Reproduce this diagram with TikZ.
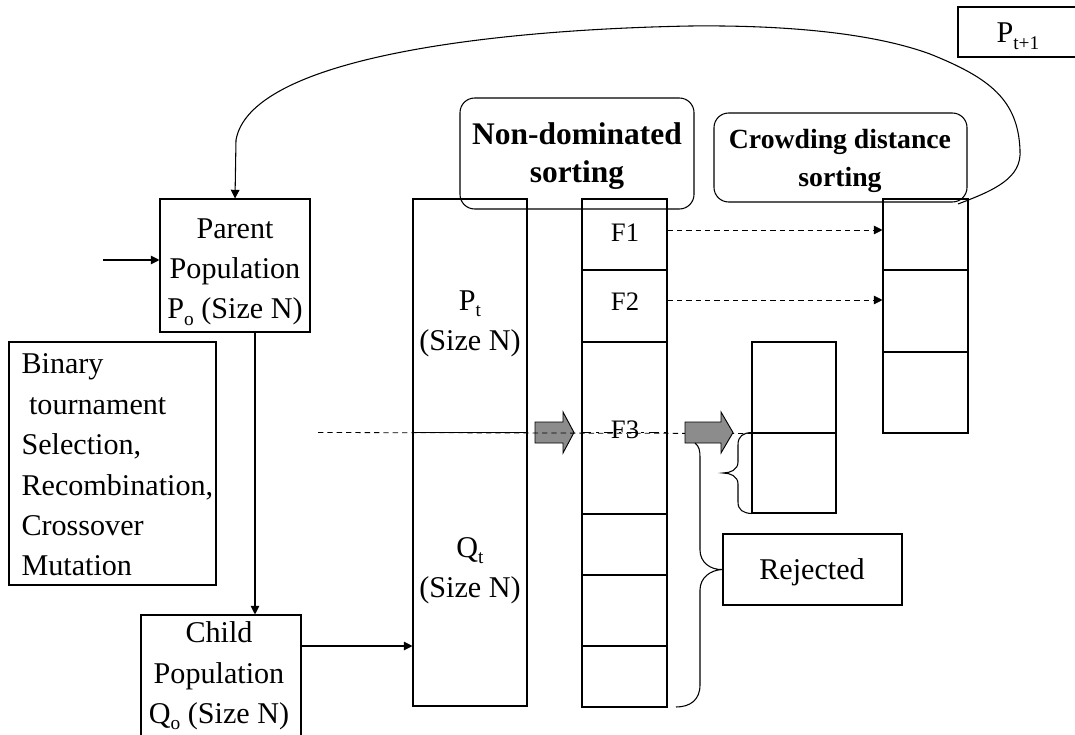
\documentclass[tikz,border=0pt]{standalone}
\usepackage{fontspec}
\setmainfont{Liberation Serif}
\usetikzlibrary{arrows.meta,fit}
\newcommand\lowsub[1]{\raisebox{-4.8pt}{\fontsize{14.5}{14.5}\selectfont #1}}
\begin{document}
\begin{tikzpicture}[x=0.75pt,y=-0.75pt,
  line width=0.8pt,
  box/.style={draw, inner sep=0pt},
  rbox/.style={draw, rounded corners=11pt, inner sep=0pt},
  txt/.style={font=\fontsize{22.6}{30.3}\selectfont, align=center, inner sep=0pt},
  ftxt/.style={font=\fontsize{20}{24}\selectfont, inner sep=0pt},
  hdr/.style={font=\bfseries\fontsize{#1}{28}\selectfont, align=center, inner sep=0pt},
  arr/.style={-{Triangle[length=6.5pt,width=6.5pt]}},
  thindash/.style={line width=0.6pt, dash pattern=on 4pt off 3pt},
  blockarrow/.style={draw, line width=0.7pt, fill=black!45},
]
\useasboundingbox (0,0) rectangle (1075,735);
\clip (0,0) rectangle (1075,735);

% next generation label
\node[box, fit={(958,7) (1085,57)}] (pnext) {};
\node[txt, anchor=base west] (pnextlabel) at (996,43) {P\lowsub{t+1}};

% parent population and genetic operators
\node[box, fit={(160,199) (310,332)}] (parent) {};
\node[txt] (parentlabel) at (235,272) {Parent\\Population\\P\lowsub{o} (Size N)};
\node[box, fit={(9,342) (216,585)}] (ops) {};
\node[txt, align=left, anchor=west] (opslabel) at (21,465)
  {Binary\\\hspace{0.25em}tournament\\Selection,\\Recombination,\\Crossover\\Mutation};
\node[box, fit={(141,615) (301,745)}] (child) {};
\node[txt] (childlabel) at (219,676) {Child\\Population\\Q\lowsub{o} (Size N)};

% combined population R_t = P_t + Q_t
\node[box, fit={(413,199) (527,706)}] (pq) {};
\node[txt] (pt) at (470,324) {P\lowsub{t}\\(Size N)};
\node[txt] (qt) at (470,571) {Q\lowsub{t}\\(Size N)};

% sorting headers
\node[rbox, fit={(460,98) (694,209)}] (nds) {};
\node[hdr=23.6] (ndslabel) at (577,156) {Non-dominated\\sorting};
\node[rbox, fit={(714,113) (967,202)}] (crowd) {};
\node[hdr=20.8] (crowdlabel) at (840,161) {Crowding distance\\sorting};

% fronts
\node[box, fit={(582,199) (667,270)}] (f1) {};
\node[box, fit={(582,270) (667,342)}] (f2) {};
\node[box, fit={(582,342) (667,514)}] (f3) {};
\node[box, fit={(582,514) (667,575)}] (f4) {};
\node[box, fit={(582,575) (667,646)}] (f5) {};
\node[box, fit={(582,646) (667,707)}] (f6) {};
\node[ftxt] (f1label) at (625,233) {F1};
\node[ftxt] (f2label) at (625,302) {F2};

% new population
\node[box, fit={(883,199) (968,270)}] (r1) {};
\node[box, fit={(883,270) (968,352)}] (r2) {};
\node[box, fit={(883,352) (968,433)}] (r3) {};

% split front F3
\node[box, fit={(752,342) (836,433)}] (s1) {};
\node[box, fit={(752,433) (836,513)}] (s2) {};

\node[box, fit={(723,534) (902,605)}] (rej) {};
\node[txt] (rejlabel) at (812,572) {Rejected};

% connectors
\coordinate (in) at (103,260);
\draw[arr] (in) -- (in -| parent.west);
\draw[arr] (parent.south -| 255,0) -- (child.north -| 255,0);
\draw[arr] (child.east |- 0,646) -- (pq.west |- 0,646);

\coordinate (loopstart) at (958,204);
\draw[arr] (loopstart) .. controls (995,190) and (1022,178) .. (1020,150)
  .. controls (1018,100) and (990,78) .. (930,54)
  .. controls (870,32) and (780,25) .. (690,26)
  .. controls (480,30) and (250,60) .. (236,140)
  -- (parent.north);

\draw[thindash, arr] (f1.east |- 0,230) -- (r1.west |- 0,230);
\draw[thindash, arr] (f2.east |- 0,300) -- (r2.west |- 0,300);

% cut line through the populations
\coordinate (cutstart) at (318,432.5);
\draw[blockarrow] (535,422) -- (563,422) -- (563,412) -- (574,432.5)
  -- (563,453) -- (563,443) -- (535,443) -- cycle;
\draw[thindash] (cutstart) -- (s1.south west);
\draw (pq.west |- 0,432.5) -- (pq.east |- 0,432.5);
\draw[line width=1.1pt, dash pattern=on 7pt off 4pt on 2pt off 4pt]
  (f3.west |- 0,432.5) -- (f3.east |- 0,432.5);
\node[ftxt] (f3label) at (625,430) {F3};
\draw[blockarrow] (685,422) -- (721,422) -- (721,412) -- (733,432.5)
  -- (721,453) -- (721,443) -- (685,443) -- cycle;

% braces
\draw (s2.north west) .. controls (743,433) and (738,436) .. (738,445) -- (738,462)
  .. controls (738,470) and (730,473) .. (723,473)
  .. controls (730,473) and (738,476) .. (738,484) -- (738,502)
  .. controls (738,510) and (743,513) .. (s2.south west);
\draw (695,443) .. controls (699,446) and (700,450) .. (700,458) -- (700,550)
  .. controls (700,562) and (710,570) .. (rej.west)
  .. controls (710,570) and (700,578) .. (700,590) -- (700,685)
  .. controls (700,700) and (690,707) .. (676,707);
\end{tikzpicture}
\end{document}
